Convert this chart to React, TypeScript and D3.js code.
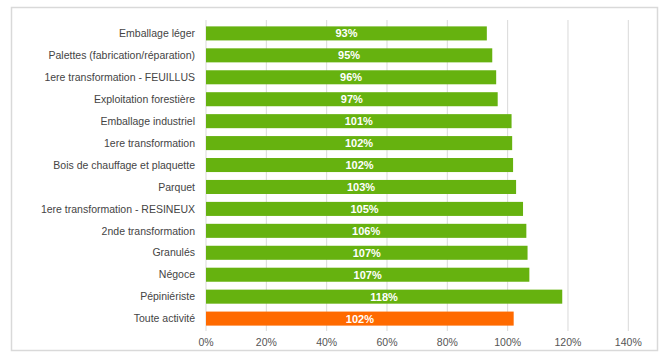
import React from 'react'
import * as d3 from 'd3'

const categories = [
	'Emballage léger',
	'Palettes (fabrication/réparation)',
	'1ere transformation - FEUILLUS',
	'Exploitation forestière',
	'Emballage industriel',
	'1ere transformation',
	'Bois de chauffage et plaquette',
	'Parquet',
	'1ere transformation - RESINEUX',
	'2nde transformation',
	'Granulés',
	'Négoce',
	'Pépiniériste',
	'Toute activité',
]
const values = [93.1, 94.9, 96.2, 96.7, 101.3, 101.5, 101.8, 102.8, 105.1, 106.2, 106.6, 107.2, 118.1, 102.0]
const ticks = [0, 20, 40, 60, 80, 100, 120, 140]
const highlight = 'Toute activité'

const W = 670
const H = 360

export default function App() {
	const x = d3.scaleLinear().domain([0, 140]).range([206, 628.3])
	const y = d3.scaleBand().domain(categories).range([22, 330]).paddingInner(0.36).paddingOuter(0.2)
	const font = 'Liberation Sans, Arial, sans-serif'

	return (
		<svg width={W} height={H} style={{position: 'absolute', left: 0, top: 0}}>
			<rect x={0} y={0} width={W} height={H} fill="#fff" />
			<rect x={11.5} y={7.5} width={646} height={343} fill="#fff" stroke="#d9d9d9" strokeWidth={1.5} />
			<g className="grid">
				{ticks.map(t => (
					<line key={`g-${t}`} x1={x(t)} x2={x(t)} y1={20} y2={331} stroke="#d9d9d9" strokeWidth={1} />
				))}
			</g>
			<g className="bars">
				{categories.map((c, i) => (
					<g key={`bar-${i}`}>
						<rect
							x={x(0)}
							y={y(c)}
							width={x(values[i]) - x(0)}
							height={y.bandwidth()}
							fill={c === highlight ? '#ff6a00' : '#66b20f'}
						/>
						<text
							x={(x(0) + x(values[i])) / 2}
							y={y(c)! + y.bandwidth() / 2}
							dy="0.36em"
							textAnchor="middle"
							fill="#fff"
							fontWeight="bold"
							fontSize={11}
							fontFamily={font}
						>
							{Math.round(values[i])}%
						</text>
						<text
							x={195}
							y={y(c)! + y.bandwidth() / 2}
							dy="0.35em"
							textAnchor="end"
							fill="#444"
							fontSize={10.5}
							fontFamily={font}
						>
							{c}
						</text>
					</g>
				))}
			</g>
			<g className="axis">
				{ticks.map(t => (
					<text key={`t-${t}`} x={x(t)} y={342} dy="0.35em" textAnchor="middle" fill="#555" fontSize={10.5} fontFamily={font}>
						{t}%
					</text>
				))}
			</g>
		</svg>
	)
}
